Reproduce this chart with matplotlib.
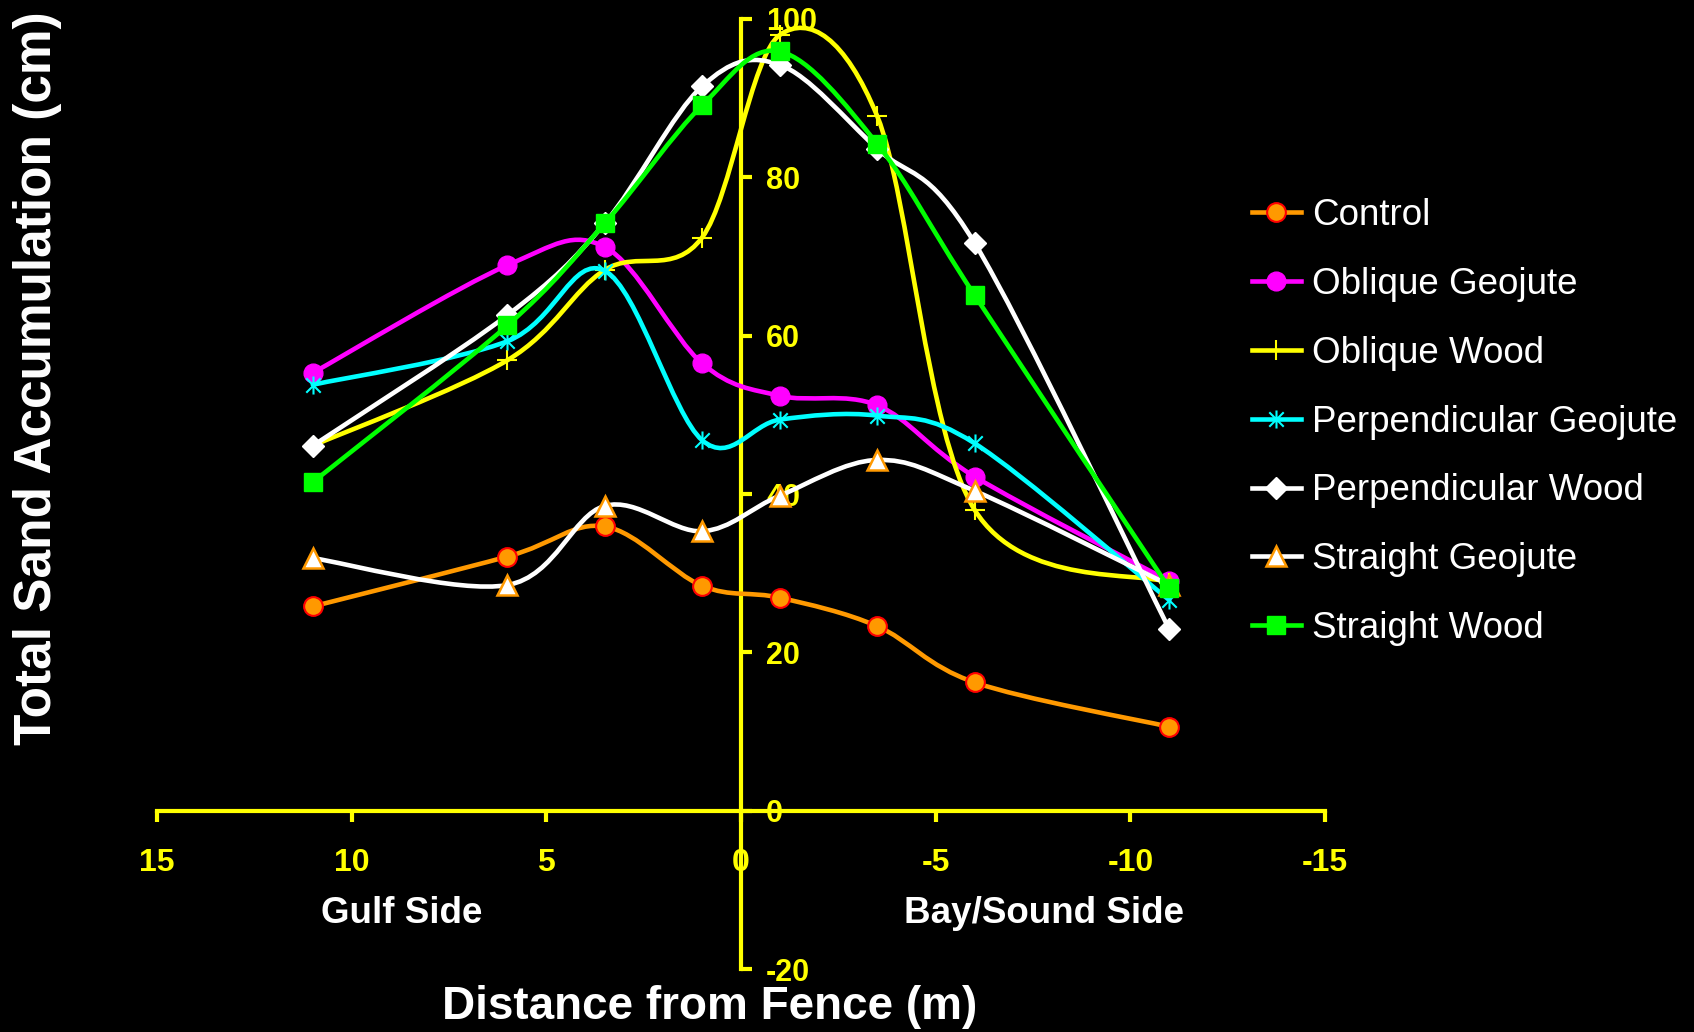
import matplotlib
matplotlib.use('Agg')
import matplotlib.pyplot as plt
from matplotlib.path import Path
from matplotlib.patches import PathPatch
from matplotlib.lines import Line2D

plt.rcParams['font.family'] = ['Liberation Sans', 'DejaVu Sans']
plt.rcParams['axes.unicode_minus'] = False

# data (distance from fence in m, sand accumulation in cm)
distance = [11, 6, 3.5, 1, -1, -3.5, -6, -11]
control = [25.8, 32.1, 35.9, 28.4, 26.9, 23.3, 16.2, 10.6]
oblique_geojute = [55.3, 68.9, 71.2, 56.5, 52.4, 51.2, 42.2, 29.0]
oblique_wood = [46.1, 56.9, 68.3, 72.4, 98.0, 87.7, 38.0, 28.8]
perp_geojute = [53.8, 59.3, 68.2, 46.8, 49.4, 49.9, 46.4, 26.6]
perp_wood = [46.1, 62.6, 74.2, 91.5, 94.2, 83.6, 71.7, 22.9]
straight_geojute = [31.9, 28.5, 38.5, 35.3, 39.8, 44.3, 40.4, 28.5]
straight_wood = [41.5, 61.3, 74.2, 89.1, 95.9, 84.2, 65.1, 28.1]

x_ticks = [15, 10, 5, 0, -5, -10, -15]
y_ticks = [-20, 0, 20, 40, 60, 80, 100]

# asterisk marker like excel's (vertical bar + X)
asterisk = Path([(0, -1), (0, 1), (-0.8, -0.8), (0.8, 0.8), (-0.8, 0.8), (0.8, -0.8)],
                [Path.MOVETO, Path.LINETO, Path.MOVETO, Path.LINETO, Path.MOVETO, Path.LINETO])

series = [
    ('Control', control, dict(color='#FF9900', marker='o', ms=13.5, mfc='#FF9900', mec='#FF0000', mew=1.5)),
    ('Oblique Geojute', oblique_geojute, dict(color='#FF00FF', marker='o', ms=13.5, mfc='#FF00FF', mec='#FF00FF', mew=1)),
    ('Oblique Wood', oblique_wood, dict(color='#FFFF00', marker='+', ms=15, mec='#FFFF00', mew=1.5)),
    ('Perpendicular Geojute', perp_geojute, dict(color='#00FFFF', marker=asterisk, ms=13, mec='#00FFFF', mew=1.5)),
    ('Perpendicular Wood', perp_wood, dict(color='white', marker='D', ms=11.5, mfc='white', mec='white', mew=1)),
    ('Straight Geojute', straight_geojute, dict(color='white', marker='^', ms=14, mfc='white', mec='#FF9900', mew=1.8)),
    ('Straight Wood', straight_wood, dict(color='#00FF00', marker='s', ms=13, mfc='#00FF00', mec='#00FF00', mew=1)),
]


def smooth_path(xs, ys):
    # bezier through the points, same idea as excel's "smoothed line"
    pts = list(zip(xs, ys))
    n = len(pts)
    verts = [pts[0]]
    codes = [Path.MOVETO]
    for i in range(n - 1):
        p0 = pts[i - 1] if i > 0 else pts[i]
        p1, p2 = pts[i], pts[i + 1]
        p3 = pts[i + 2] if i + 2 < n else pts[i + 1]
        c1 = (p1[0] + (p2[0] - p0[0]) / 6, p1[1] + (p2[1] - p0[1]) / 6)
        c2 = (p2[0] - (p3[0] - p1[0]) / 6, p2[1] - (p3[1] - p1[1]) / 6)
        verts += [c1, c2, p2]
        codes += [Path.CURVE4] * 3
    return Path(verts, codes)


fig = plt.figure(figsize=(16.94, 10.32), dpi=100, facecolor='black')
ax = fig.add_axes([0.0927, 0.0610, 0.6895, 0.9206])
ax.set_facecolor('black')

handles = []
for name, vals, st in series:
    st = dict(st)
    col = st.pop('color')
    ax.add_patch(PathPatch(smooth_path(distance, vals), facecolor='none', edgecolor=col,
                           lw=3.3, zorder=2, joinstyle='round', capstyle='round'))
    ax.plot(distance, vals, linestyle='none', zorder=2, **st)
    handles.append(Line2D([], [], color=col, lw=3.3, label=name, **st))

ax.set_xlim(15, -15)
ax.set_ylim(-20, 100)

for s in ['left', 'top']:
    ax.spines[s].set_visible(False)
ax.spines['right'].set_position(('data', 0))
ax.spines['bottom'].set_position(('data', 0))
for s in ['right', 'bottom']:
    ax.spines[s].set_color('#FFFF00')
    ax.spines[s].set_linewidth(3)
    ax.spines[s].set_zorder(1)

ax.yaxis.tick_right()
ax.set_xticks(x_ticks)
ax.set_yticks(y_ticks)
ax.tick_params(axis='x', colors='#FFFF00', direction='out', length=8, width=3, pad=19,
               labelsize=23, labelcolor='#FFFF00')
ax.tick_params(axis='y', colors='#FFFF00', direction='out', length=8, width=3, pad=10,
               labelsize=22, labelcolor='#FFFF00')
for lab in ax.get_xticklabels() + ax.get_yticklabels():
    lab.set_fontweight('bold')

fig.text(0.237, 0.115, 'Gulf Side', color='white', fontsize=26.5, fontweight='bold', ha='center', va='center')
fig.text(0.616, 0.115, 'Bay/Sound Side', color='white', fontsize=26.5, fontweight='bold', ha='center', va='center')
fig.text(0.419, 0.024, 'Distance from Fence (m)', color='white', fontsize=33, fontweight='bold',
         ha='center', va='center')
fig.text(0.022, 0.634, 'Total Sand Accumulation (cm)', color='white', fontsize=37, fontweight='bold',
         rotation=90, ha='center', va='center')

leg = fig.legend(handles=handles, loc='upper left', bbox_to_anchor=(0.728, 0.826), frameon=False,
                 fontsize=26.5, labelcolor='white', handlelength=1.35, handletextpad=0.3,
                 labelspacing=0.92, borderpad=0)

fig.savefig('out.png', dpi=100, facecolor='black')
